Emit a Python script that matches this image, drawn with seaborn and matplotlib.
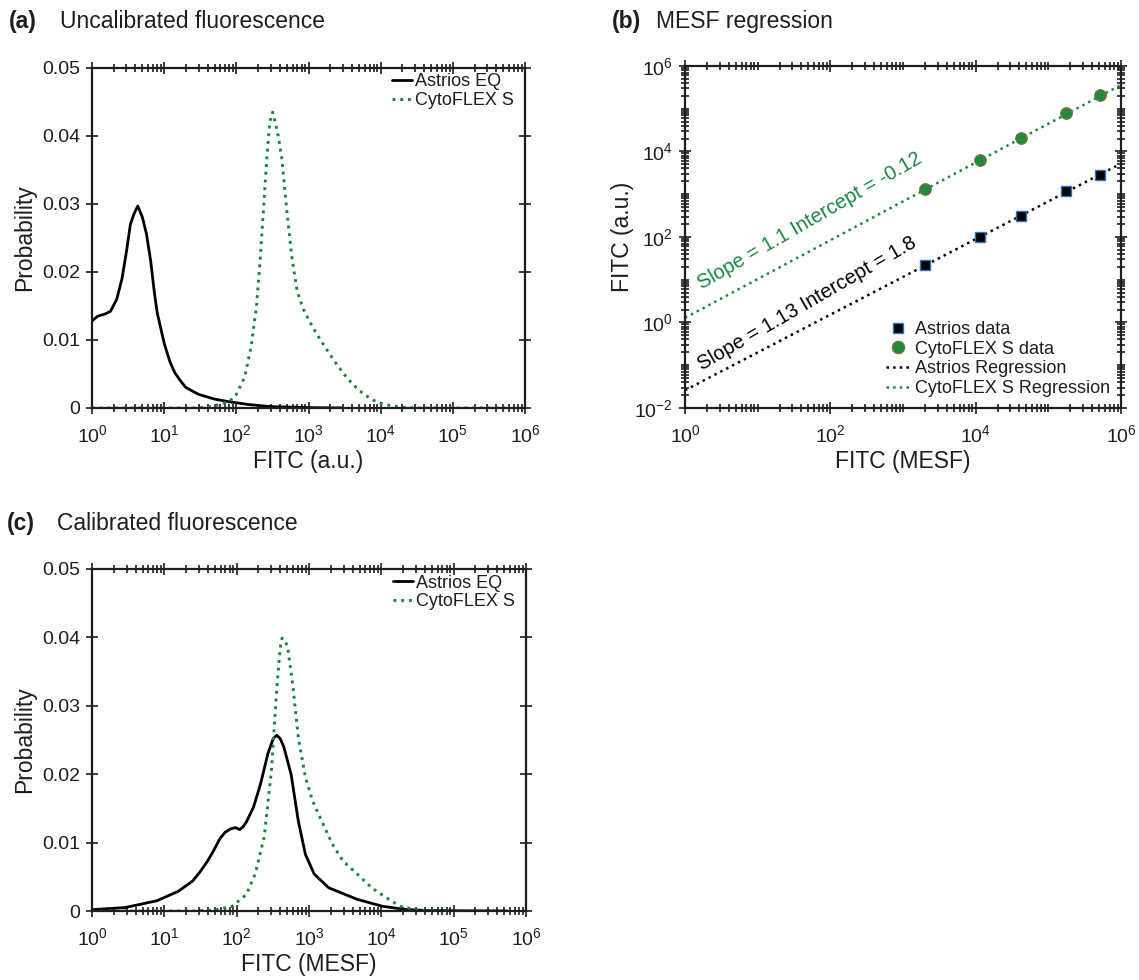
import numpy as np
import pandas as pd
import matplotlib
matplotlib.use("Agg")
import matplotlib.pyplot as plt
import matplotlib.ticker as mticker
from matplotlib.lines import Line2D
import seaborn as sns

# --- data ---
# (a) uncalibrated histograms, FITC (a.u.)
astrios_a_x = [1, 1.2, 1.5, 1.8, 2.2, 2.6, 3.0, 3.4, 3.8, 4.3, 5.0, 5.7, 6.5, 7.3, 8.0,
               10, 12, 14, 16.5, 20, 30, 50, 81, 150, 300, 1000, 3000]
astrios_a_y = [0.0128, 0.0135, 0.0138, 0.0142, 0.016, 0.019, 0.023, 0.027, 0.0285, 0.0297,
               0.028, 0.0255, 0.0216, 0.017, 0.014, 0.0095, 0.0068, 0.0052, 0.0041, 0.003,
               0.002, 0.0013, 0.0009, 0.0005, 0.0002, 0.00005, 0.0]
cyto_a_x = [1, 10, 30, 50, 81, 100, 130, 160, 190, 213, 240, 264, 290, 318, 345, 380, 426,
            500, 588, 700, 850, 1000, 1200, 1500, 2000, 2500, 3200, 4000, 5000, 6500, 8000,
            10000, 14000, 20000, 30000, 100000, 550000]
cyto_a_y = [0, 0, 0, 0.0003, 0.001, 0.002, 0.0045, 0.009, 0.015, 0.0216, 0.03, 0.0367,
            0.042, 0.0435, 0.042, 0.040, 0.0367, 0.029, 0.0221, 0.017, 0.0145, 0.013, 0.0115,
            0.0098, 0.0078, 0.0063, 0.0048, 0.0036, 0.0026, 0.0017, 0.0011, 0.0007, 0.0003,
            0.0001, 0, 0, 0]

# (b) MESF regression
mesf_x = [2000, 11500, 42000, 174000, 510000]
astrios_b_y = [22, 100, 310, 1200, 2800]
cyto_b_y = [1300, 6300, 21000, 79000, 210000]
fit_x = [1, 1e6]
astrios_fit_y = [0.026, 5200]
cyto_fit_y = [1.28, 3.6e5]

# (c) calibrated histograms, FITC (MESF)
astrios_c_x = [1, 2.85, 7.9, 15.7, 24.7, 31, 39.6, 49, 58, 69, 82, 97, 110, 122, 136, 171,
               214, 270, 320, 359, 400, 448, 565, 710, 890, 1180, 1870, 4650, 10300, 20500,
               45000, 550000]
astrios_c_y = [0.0002, 0.0005, 0.0015, 0.0029, 0.0044, 0.0057, 0.0073, 0.009, 0.0105,
               0.0115, 0.012, 0.0122, 0.0119, 0.0123, 0.013, 0.0152, 0.0186, 0.023, 0.0252,
               0.0257, 0.0252, 0.024, 0.020, 0.0132, 0.0083, 0.0054, 0.0034, 0.0017, 0.0007,
               0.00025, 0.00005, 0.0]
cyto_c_x = [1, 10, 24.7, 50, 87, 136, 180, 240, 302, 360, 400, 425, 460, 505, 600, 710, 890,
            1120, 1490, 2100, 2950, 4650, 7350, 11500, 18200, 32000, 100000, 550000]
cyto_c_y = [0, 0, 0, 0.00015, 0.0007, 0.0024, 0.0054, 0.0108, 0.0205, 0.0328, 0.0385,
            0.0399, 0.0396, 0.0387, 0.0328, 0.0254, 0.0196, 0.0161, 0.0132, 0.0098, 0.0073,
            0.0054, 0.0034, 0.002, 0.0007, 0.0001, 0, 0]

GREEN = "#1b8442"
INK = "#1e1e1e"

sns.set_style("ticks")
plt.rcParams["font.family"] = ["Liberation Sans", "DejaVu Sans"]
plt.rcParams["mathtext.fontset"] = "custom"
plt.rcParams["mathtext.rm"] = "Liberation Sans"
plt.rcParams["axes.edgecolor"] = INK
plt.rcParams["text.color"] = INK
plt.rcParams["axes.labelcolor"] = INK
plt.rcParams["xtick.color"] = INK
plt.rcParams["ytick.color"] = INK


def style_axes(ax):
    for s in ax.spines.values():
        s.set_visible(True)
        s.set_linewidth(1.6)
    ax.tick_params(which="both", direction="inout", top=True, right=True,
                   labelsize=14, width=1.2)
    ax.tick_params(which="major", length=9)
    ax.tick_params(which="minor", length=6)
    ax.tick_params(axis="x", which="both", pad=7)
    ax.tick_params(axis="y", which="both", pad=4)


def log_x(ax):
    ax.set_xscale("log")
    ax.set_xlim(1, 1e6)
    ax.xaxis.set_minor_locator(mticker.LogLocator(base=10, subs=np.arange(2, 10), numticks=100))


def hist_panel(ax, ax_x, ax_y, cy_x, cy_y, xlabel):
    d1 = pd.DataFrame({"x": ax_x, "y": ax_y})
    d2 = pd.DataFrame({"x": cy_x, "y": cy_y})
    sns.lineplot(data=d1, x="x", y="y", ax=ax, color="black", lw=2.0,
                 label="Astrios EQ", sort=False)
    sns.lineplot(data=d2, x="x", y="y", ax=ax, color=GREEN, lw=2.1, ls=":",
                 label="CytoFLEX S", sort=False)
    log_x(ax)
    ax.xaxis.set_major_locator(mticker.LogLocator(base=10, numticks=20))
    ax.set_ylim(0, 0.05)
    ax.set_yticks([0, 0.01, 0.02, 0.03, 0.04, 0.05])
    ax.yaxis.set_major_formatter(mticker.FuncFormatter(lambda v, p: f"{v:g}"))
    ax.set_xlabel(xlabel, fontsize=16.5, labelpad=3)
    ax.set_ylabel("Probability", fontsize=16.5, labelpad=4)
    style_axes(ax)
    ax.legend(loc="upper right", bbox_to_anchor=(0.99, 1.005), frameon=False,
              fontsize=13, handlelength=1.1, handletextpad=0.15, labelspacing=0.1,
              borderaxespad=0.0)


fig = plt.figure(figsize=(11.39, 9.8), dpi=100)
ax_a = fig.add_axes([0.0808, 0.5837, 0.3802, 0.347])
ax_b = fig.add_axes([0.6014, 0.5837, 0.3828, 0.349])
ax_c = fig.add_axes([0.0808, 0.0704, 0.381, 0.349])

hist_panel(ax_a, astrios_a_x, astrios_a_y, cyto_a_x, cyto_a_y, "FITC (a.u.)")
hist_panel(ax_c, astrios_c_x, astrios_c_y, cyto_c_x, cyto_c_y, "FITC (MESF)")

# (b) regression panel
pts_a = pd.DataFrame({"x": mesf_x, "y": astrios_b_y})
pts_c = pd.DataFrame({"x": mesf_x, "y": cyto_b_y})
fit_a = pd.DataFrame({"x": fit_x, "y": astrios_fit_y})
fit_c = pd.DataFrame({"x": fit_x, "y": cyto_fit_y})
sns.lineplot(data=fit_a, x="x", y="y", ax=ax_b, color="black", lw=1.8, ls=":")
sns.lineplot(data=fit_c, x="x", y="y", ax=ax_b, color=GREEN, lw=1.8, ls=":")
sns.scatterplot(data=pts_a, x="x", y="y", ax=ax_b, marker="s", s=45, color="black",
                edgecolor="#2f75c0", linewidth=1.0, zorder=3)
sns.scatterplot(data=pts_c, x="x", y="y", ax=ax_b, marker="o", s=70, color="#218a3e",
                edgecolor="#8a6d3b", linewidth=0.8, zorder=3)
log_x(ax_b)
ax_b.set_xticks([1, 1e2, 1e4, 1e6])
ax_b.xaxis.set_minor_locator(mticker.LogLocator(base=10, subs=np.arange(1, 10), numticks=100))
ax_b.set_yscale("log")
ax_b.set_ylim(1e-2, 1e6)
ax_b.set_yticks([1e-2, 1, 1e2, 1e4, 1e6])
ax_b.yaxis.set_minor_locator(mticker.LogLocator(base=10, subs=np.arange(1, 10), numticks=100))
ax_b.xaxis.set_minor_formatter(mticker.NullFormatter())
ax_b.yaxis.set_minor_formatter(mticker.NullFormatter())
ax_b.set_xlabel("FITC (MESF)", fontsize=16.5, labelpad=3)
ax_b.set_ylabel("FITC (a.u.)", fontsize=16.5, labelpad=0)
style_axes(ax_b)
handles = [
    Line2D([], [], ls="none", marker="s", ms=7, mfc="black", mec="#2f75c0", mew=1.0),
    Line2D([], [], ls="none", marker="o", ms=9, mfc="#218a3e", mec="#8a6d3b", mew=0.8),
    Line2D([], [], color="black", lw=1.8, ls=":"),
    Line2D([], [], color=GREEN, lw=1.8, ls=":"),
]
ax_b.legend(handles, ["Astrios data", "CytoFLEX S data", "Astrios Regression",
                      "CytoFLEX S Regression"], loc="lower right", frameon=False,
            fontsize=13, handlelength=1.3, handletextpad=0.3, labelspacing=0.15,
            borderaxespad=0.2)
ax_b.text(1.8, 4.9, "Slope = 1.1 Intercept = -0.12", color=GREEN, fontsize=14.5,
          rotation=30, rotation_mode="anchor", ha="left", va="bottom")
ax_b.text(1.85, 0.062, "Slope = 1.13 Intercept = 1.8", color="black", fontsize=14.5,
          rotation=30, rotation_mode="anchor", ha="left", va="bottom")

# panel titles
for x0, x1, y, tag, title in [(0.008, 0.053, 0.978, "(a)", "Uncalibrated fluorescence"),
                              (0.537, 0.576, 0.978, "(b)", "MESF regression"),
                              (0.006, 0.050, 0.466, "(c)", "Calibrated fluorescence")]:
    fig.text(x0, y, tag, fontsize=16.5, fontweight="bold", va="center", ha="left")
    fig.text(x1, y, title, fontsize=16.5, va="center", ha="left")

fig.savefig("out.png", dpi=100)
